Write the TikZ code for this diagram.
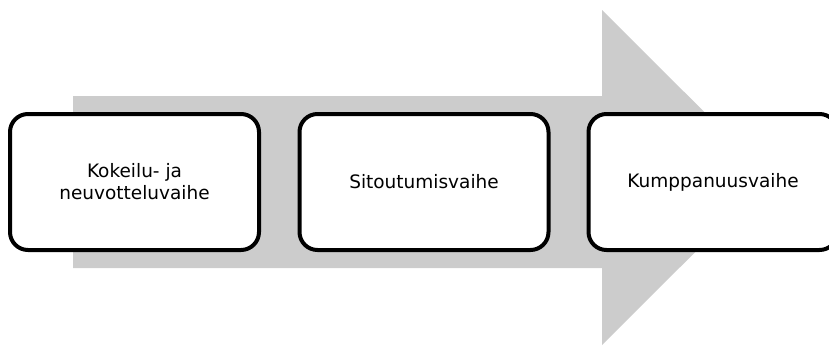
\documentclass[tikz,border=0pt]{standalone}
\usepackage{fontspec}
\setmainfont{DejaVu Sans}
\begin{document}
\begin{tikzpicture}[x=1pt,y=-1pt,
  stage/.style={draw=black, line width=4pt, rounded corners=18pt, fill=white,
    minimum width=249pt, minimum height=136pt, align=center,
    font=\fontsize{18.5}{22}\selectfont, inner sep=0pt}]
  \useasboundingbox (0,0) rectangle (829,346);
  \clip (0,0) rectangle (829,346);
  % wide grey process arrow behind the stages
  \fill[gray!40] (73,96) -- (602,96) -- (602,10) -- (770,177.5)
    -- (602,345) -- (602,268) -- (73,268) -- cycle;
  % the three stages
  \node[stage] (b1) at (134.5,182) {Kokeilu- ja\\neuvotteluvaihe};
  \node[stage] (b2) at (424,182) {Sitoutumisvaihe};
  \node[stage] (b3) at (713,182) {Kumppanuusvaihe};
\end{tikzpicture}
\end{document}
